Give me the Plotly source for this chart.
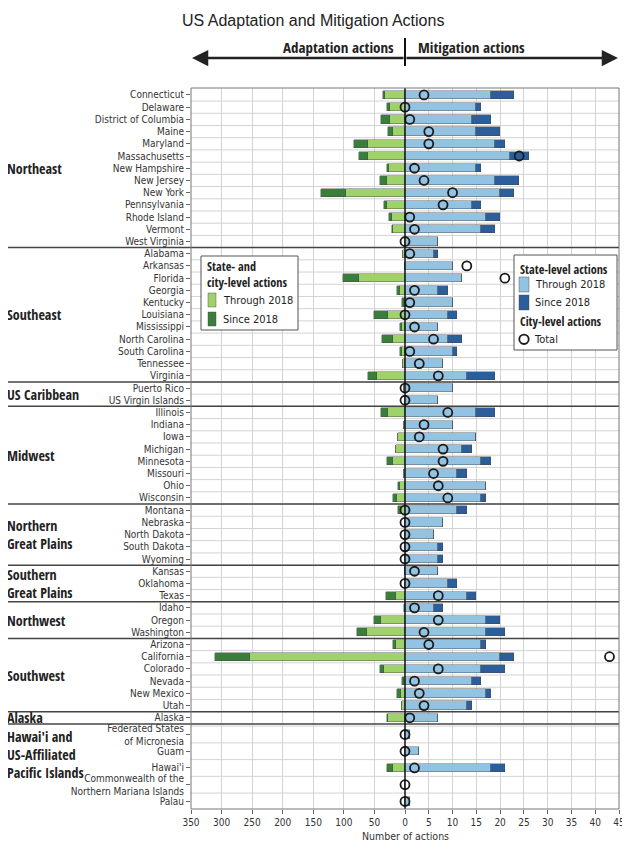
import plotly.graph_objects as go

# ---------------- data ----------------
regions = ["Northeast", "Southeast", "US Caribbean", "Midwest",
           "Northern<br>Great Plains", "Southern<br>Great Plains",
           "Northwest", "Southwest", "Alaska",
           "Hawai'i and<br>US-Affiliated<br>Pacific Islands"]

region_sizes = [13, 11, 2, 8, 5, 3, 3, 6, 1, 5]

states = [
    "Connecticut", "Delaware", "District of Columbia", "Maine", "Maryland",
    "Massachusetts", "New Hampshire", "New Jersey", "New York", "Pennsylvania",
    "Rhode Island", "Vermont", "West Virginia",
    "Alabama", "Arkansas", "Florida", "Georgia", "Kentucky", "Louisiana",
    "Mississippi", "North Carolina", "South Carolina", "Tennessee", "Virginia",
    "Puerto Rico", "US Virgin Islands",
    "Illinois", "Indiana", "Iowa", "Michigan", "Minnesota", "Missouri", "Ohio",
    "Wisconsin",
    "Montana", "Nebraska", "North Dakota", "South Dakota", "Wyoming",
    "Kansas", "Oklahoma", "Texas",
    "Idaho", "Oregon", "Washington",
    "Arizona", "California", "Colorado", "Nevada", "New Mexico", "Utah",
    "Alaska",
    "Federated States<br>of Micronesia", "Guam", "Hawai'i",
    "Commonwealth of the<br>Northern Mariana Islands", "Palau",
]

adapt_through = [32, 25, 24, 19, 60, 60, 26, 30, 97, 30, 22, 19, 0,
                 3, 0, 76, 9, 2, 27, 5, 20, 5, 3, 45,
                 1, 0,
                 27, 2, 11, 14, 20, 2, 9, 13,
                 6, 0, 0, 0, 0,
                 0, 0, 15,
                 0, 40, 62,
                 14, 253, 34, 2, 6, 5,
                 27,
                 0, 0, 19, 0, 0]
adapt_since = [4, 4, 15, 9, 24, 15, 3, 11, 41, 4, 4, 2, 0,
               0, 0, 26, 4, 3, 24, 3, 17, 4, 0, 15,
               0, 0,
               13, 0, 1, 1, 9, 0, 2, 6,
               5, 0, 0, 0, 0,
               0, 0, 16,
               2, 10, 16,
               6, 57, 7, 3, 7, 0,
               3,
               0, 0, 10, 0, 0]
mitig_through = [18, 15, 14, 15, 19, 22, 15, 19, 20, 14, 17, 16, 7,
                 6, 10, 12, 7, 10, 9, 7, 9, 10, 8, 13,
                 10, 7,
                 15, 10, 15, 12, 16, 11, 17, 16,
                 11, 8, 6, 7, 7,
                 7, 9, 13,
                 6, 17, 17,
                 16, 20, 16, 14, 17, 13,
                 7,
                 1, 3, 18, 0, 1]
mitig_since = [5, 1, 4, 5, 2, 4, 1, 5, 3, 2, 3, 3, 0,
               1, 0, 0, 2, 0, 2, 0, 3, 1, 0, 6,
               0, 0,
               4, 0, 0, 2, 2, 2, 0, 1,
               2, 0, 0, 1, 1,
               0, 2, 2,
               2, 3, 4,
               1, 3, 5, 2, 1, 1,
               0,
               0, 0, 3, 0, 0]
city_total = [4, 0, 1, 5, 5, 24, 2, 4, 10, 8, 1, 2, 0,
              1, 13, 21, 2, 1, 0, 2, 6, 1, 3, 7,
              0, 0,
              9, 4, 3, 8, 8, 6, 7, 9,
              0, 0, 0, 0, 0,
              2, 0, 7,
              2, 7, 4,
              5, 43, 7, 2, 3, 4,
              1,
              0, 0, 2, 0, 0]

left_ticks = [350, 300, 250, 200, 150, 100, 50, 0]
right_ticks = [5, 10, 15, 20, 25, 30, 35, 40, 45]

# ---------------- style ----------------
C_LG = "#9fd26a"
C_DG = "#3a7e3b"
C_LB = "#93c3e2"
C_DB = "#2c5e9c"
OUTLINE = dict(color="rgba(70,70,70,0.7)", width=0.6)
REG = "DejaVu Sans Condensed, Liberation Sans, Arial, sans-serif"
BOLD = "Open Sans Condensed, Liberation Sans, Arial, sans-serif"
SANS = "Liberation Sans, Arial, sans-serif"
BIG_STEP = 1.37

# page body has an 8px margin: figure placed at (8, 8) of the window
PL, PT, PW, PH = 191, 88, 428, 721      # plot area in window pixels


def px(X):
    return (X - PL) / PW


def py(Y):
    return (PT + PH - Y) / PH


pos = []
sec_first, sec_last = [], []
p = 0.0
idx = 0
for r, n in enumerate(region_sizes):
    step = BIG_STEP if r == len(region_sizes) - 1 else 1.0
    for k in range(n):
        if idx > 0:
            p += step
        pos.append(p)
        if k == 0:
            sec_first.append(p)
        idx += 1
    sec_last.append(p)

y_range = [pos[-1] + 0.62, -0.57]

fig = go.Figure()
fig.add_trace(go.Bar(y=pos, x=adapt_through, orientation="h", xaxis="x", yaxis="y",
                     marker=dict(color=C_LG, line=OUTLINE), width=0.68,
                     name="Through 2018", hoverinfo="skip"))
fig.add_trace(go.Bar(y=pos, x=adapt_since, orientation="h", xaxis="x", yaxis="y",
                     marker=dict(color=C_DG, line=OUTLINE), width=0.68,
                     name="Since 2018", hoverinfo="skip"))
fig.add_trace(go.Bar(y=pos, x=mitig_through, orientation="h", xaxis="x2", yaxis="y",
                     marker=dict(color=C_LB, line=OUTLINE), width=0.68,
                     name="Through 2018", hoverinfo="skip"))
fig.add_trace(go.Bar(y=pos, x=mitig_since, orientation="h", xaxis="x2", yaxis="y",
                     marker=dict(color=C_DB, line=OUTLINE), width=0.68,
                     name="Since 2018", hoverinfo="skip"))
fig.add_trace(go.Scatter(y=pos, x=city_total, mode="markers", xaxis="x2", yaxis="y",
                         marker=dict(symbol="circle-open", size=9, color="#1a1a1a",
                                     line=dict(width=1.8)),
                         cliponaxis=False, name="Total", hoverinfo="skip"))

tickfont = dict(family=REG, size=10, color="#333")
xcommon = dict(ticks="outside", ticklen=4, tickcolor="#666", tickfont=tickfont,
               showgrid=True, gridcolor="#d3d3d3", gridwidth=1, zeroline=False,
               showline=False, fixedrange=True, automargin=False)

shapes = []
for i in range(len(pos) - 1):
    mid = (pos[i] + pos[i + 1]) / 2
    shapes.append(dict(type="line", xref="paper", yref="y", x0=0, x1=1, y0=mid, y1=mid,
                       line=dict(color="#d3d3d3", width=1), layer="below"))
for r in range(len(region_sizes) - 1):
    ys = sec_last[r] + 0.5
    shapes.append(dict(type="line", xref="paper", yref="y", x0=px(5), x1=1, y0=ys, y1=ys,
                       line=dict(color="#444", width=1.5), layer="above"))
shapes.append(dict(type="line", xref="paper", yref="paper", x0=0.5, x1=0.5, y0=0, y1=1,
                   line=dict(color="#111", width=1.5), layer="above"))
shapes.append(dict(type="rect", xref="paper", yref="paper", x0=0, x1=1, y0=0, y1=1,
                   line=dict(color="#777", width=1), layer="above"))
shapes.append(dict(type="line", xref="paper", yref="paper", x0=0.5, x1=0.5,
                   y0=py(66), y1=py(38), line=dict(color="#111", width=2)))


def rect(x0, x1, y0, y1, fill, lc="#555", lw=1):
    shapes.append(dict(type="rect", xref="paper", yref="paper",
                       x0=px(x0), x1=px(x1), y0=py(y1), y1=py(y0),
                       fillcolor=fill, line=dict(color=lc, width=lw), layer="above"))


annotations = []


def text(s, X, Y, font, anchor="left"):
    annotations.append(dict(text=s, xref="paper", yref="paper", x=px(X), y=py(Y),
                            xanchor=anchor, yanchor="middle", align="left",
                            showarrow=False, font=font))


# ----- manual legends -----
TF = dict(family=BOLD, size=12.2, color="#222")
IF = dict(family=REG, size=11, color="#222")
rect(201, 298, 256, 330, "white")
text("<b>State- and<br>city-level actions</b>", 205, 274.5, TF)
rect(208, 216, 293, 307, C_LG, "rgba(70,70,70,0.7)", 0.6)
text("Through 2018", 221, 300.5, IF)
rect(208, 216, 312, 326, C_DG, "rgba(70,70,70,0.7)", 0.6)
text("Since 2018", 221, 319, IF)

rect(514, 617, 255, 350, "white")
text("<b>State-level actions</b>", 518, 269, TF)
rect(519, 529, 277, 292, C_LB, "rgba(70,70,70,0.7)", 0.6)
text("Through 2018", 533, 284.5, IF)
rect(519, 529, 295, 310, C_DB, "rgba(70,70,70,0.7)", 0.6)
text("Since 2018", 533, 302.5, IF)
text("<b>City-level actions</b>", 518, 321.5, TF)
shapes.append(dict(type="circle", xref="paper", yref="paper",
                   x0=px(519.3), x1=px(528.7), y0=py(344), y1=py(334.6),
                   line=dict(color="#1a1a1a", width=1.8), layer="above"))
text("Total", 532, 339.3, IF)

# ----- region labels -----
for r, name in enumerate(regions):
    ymid = (sec_first[r] + sec_last[r]) / 2
    if r == len(regions) - 1:
        ymid -= 1.1
    annotations.append(dict(text="<b>%s</b>" % name, xref="paper", yref="y",
                            x=px(5), y=ymid,
                            xanchor="left", yanchor="middle", align="left",
                            showarrow=False,
                            font=dict(family=BOLD, size=14, color="#222")))

text("US Adaptation and Mitigation Actions", 180, 20,
     dict(family=SANS, size=16, color="#222"))
text("<b>Adaptation actions</b>", 396, 47, dict(family=BOLD, size=15, color="#222"),
     anchor="right")
text("<b>Mitigation actions</b>", 416, 47, dict(family=BOLD, size=15, color="#222"))
text("Number of actions", 405, 836, dict(family=REG, size=10.5, color="#333"),
     anchor="center")
annotations += [
    dict(text="", xref="paper", yref="paper", x=px(192), y=py(58), ax=213, ay=0,
         showarrow=True, arrowhead=2, arrowsize=1.3, arrowwidth=2.5, arrowcolor="#222"),
    dict(text="", xref="paper", yref="paper", x=px(618), y=py(58), ax=-213, ay=0,
         showarrow=True, arrowhead=2, arrowsize=1.3, arrowwidth=2.5, arrowcolor="#222"),
]

fig.update_layout(
    width=622, height=856,
    margin=dict(l=PL - 8, r=11, t=PT - 8, b=856 - (PT - 8) - PH, autoexpand=False),
    paper_bgcolor="white", plot_bgcolor="white",
    barmode="stack", bargap=0, showlegend=False,
    xaxis=dict(domain=[0, 0.5], range=[350, 0], tickvals=left_ticks, anchor="y", **xcommon),
    xaxis2=dict(domain=[0.5, 1], range=[0, 45], tickvals=right_ticks, anchor="y", **xcommon),
    xaxis3=dict(overlaying="x", side="top", range=[350, 0], tickvals=left_ticks,
                anchor="y", ticks="outside", ticklen=4, tickcolor="#666",
                tickfont=tickfont, showgrid=False, zeroline=False, showline=False,
                automargin=False),
    xaxis4=dict(overlaying="x2", side="top", range=[0, 45], tickvals=right_ticks,
                anchor="y", ticks="outside", ticklen=4, tickcolor="#666",
                tickfont=tickfont, showgrid=False, zeroline=False, showline=False,
                automargin=False),
    yaxis=dict(range=y_range, tickvals=pos, ticktext=states, ticks="outside",
               ticklen=4, tickcolor="#666", tickfont=tickfont, showgrid=False,
               zeroline=False, showline=False, fixedrange=True, automargin=False),
    shapes=shapes,
    annotations=annotations,
)

fig.write_html("out.html")
